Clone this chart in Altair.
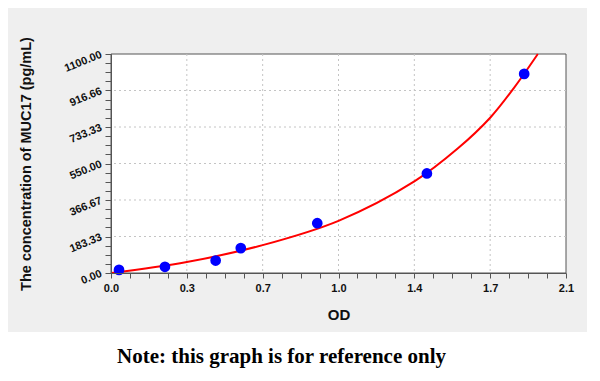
import altair as alt
import pandas as pd

# Standard points (OD, concentration)
od = [0.037, 0.249, 0.483, 0.599, 0.952, 1.458, 1.907]
conc = [15.6, 31.25, 62.5, 125, 250, 500, 1000]

# Fitted curve
curve_od = [0, 0.35, 0.7, 1.05, 1.4, 1.6, 1.75, 1.86, 1.97]
curve_conc = [0, 55, 140, 262, 460, 625, 780, 930, 1100]

# Axis ticks and labels
x_major = [0, 0.35, 0.7, 1.05, 1.4, 1.75, 2.1]
x_labels = ["0.0", "0.3", "0.7", "1.0", "1.4", "1.7", "2.1"]
y_major = [0, 183.333, 366.667, 550, 733.333, 916.667, 1100]
y_labels = ["0.00", "183.33", "366.67", "550.00", "733.33", "916.66", "1100.00"]

x_step = 0.35 / 4
y_step = 1100 / 24
x_all = [round(i * x_step, 6) for i in range(25)]
y_all = [round(i * y_step, 6) for i in range(25)]

note = "Note: this graph is for reference only"

W, H = 455, 219

pts = pd.DataFrame({"od": od, "conc": conc})
curve = pd.DataFrame({"od": curve_od, "conc": curve_conc})
xgrid = pd.DataFrame({"od": x_major[1:-1]})
ygrid = pd.DataFrame({"conc": y_major[1:-1]})
one = pd.DataFrame({"a": [0]})

xscale = alt.Scale(domain=[0, 2.1], nice=False, zero=False)
yscale = alt.Scale(domain=[0, 1100], nice=False, zero=False)

xl = "[" + ",".join("'%s'" % s for s in x_labels) + "]"
yl = "[" + ",".join("'%s'" % s for s in y_labels) + "]"
x_expr = f"(round(datum.value/{x_step}) % 4 == 0) ? {xl}[round(round(datum.value/{x_step})/4)] : ''"
y_expr = f"(round(datum.value/{y_step}) % 4 == 0) ? {yl}[round(round(datum.value/{y_step})/4)] : ''"

x_axis = alt.Axis(
    values=x_all, labelExpr=x_expr, grid=False, title="OD",
    labelFont="Liberation Sans", labelFontWeight="bold", labelFontSize=11,
    labelColor="#111", labelPadding=4, labelFlush=False, labelOverlap=False,
    tickSize=5, tickColor="#555", domainColor="#555",
    titleFont="Liberation Sans", titleFontWeight="bold", titleFontSize=15,
    titleColor="#111", titlePadding=14, zindex=1,
)
y_axis = alt.Axis(
    values=y_all, labelExpr=y_expr, grid=False,
    title="The concentration of MUC17 (pg/mL)",
    labelFont="Liberation Sans", labelFontWeight="bold", labelFontSize=11,
    labelColor="#111", labelAngle=338, labelAlign="right", labelBaseline="middle",
    labelPadding=4, labelFlush=False, labelOverlap=False,
    tickSize=6, tickColor="#555", domainColor="#555",
    titleFont="Liberation Sans", titleFontWeight="bold", titleFontSize=14.5,
    titleColor="#111", titlePadding=29, zindex=1,
)

X = alt.X("od:Q", scale=xscale, axis=x_axis)
Y = alt.Y("conc:Q", scale=yscale, axis=y_axis)

bg = alt.Chart(one).mark_rect(color="#efefef").encode(
    x=alt.value(-103), x2=alt.value(476), y=alt.value(-46), y2=alt.value(278)
)
plotbg = alt.Chart(one).mark_rect(fill="white", stroke="#555", strokeWidth=1).encode(
    x=alt.value(0), x2=alt.value(W), y=alt.value(0), y2=alt.value(H)
)
gx = alt.Chart(xgrid).mark_rule(color="#c4c4c4", strokeDash=[2, 3], strokeWidth=1).encode(x=X)
gy = alt.Chart(ygrid).mark_rule(color="#c4c4c4", strokeDash=[2, 3], strokeWidth=1).encode(y=Y)
line = alt.Chart(curve).mark_line(color="#ff0000", strokeWidth=2, interpolate="catmull-rom").encode(x=X, y=Y)
dots = alt.Chart(pts).mark_circle(color="#0000ff", opacity=1, size=115).encode(x=X, y=Y)
txt = alt.Chart(one).mark_text(
    text=note, font="Liberation Serif", fontWeight="bold", fontSize=21,
    align="center", baseline="alphabetic", color="#000"
).encode(x=alt.value(170.5), y=alt.value(308.5))

chart = alt.layer(bg, plotbg, gx, gy, line, dots, txt).properties(
    width=W, height=H,
    autosize=alt.AutoSizeParams(type="none"),
    padding={"left": 103, "top": 46, "right": 26, "bottom": 105},
    background="white",
).configure_view(strokeWidth=0)

chart.save("out.html", embed_options={"renderer": "svg", "actions": False})
